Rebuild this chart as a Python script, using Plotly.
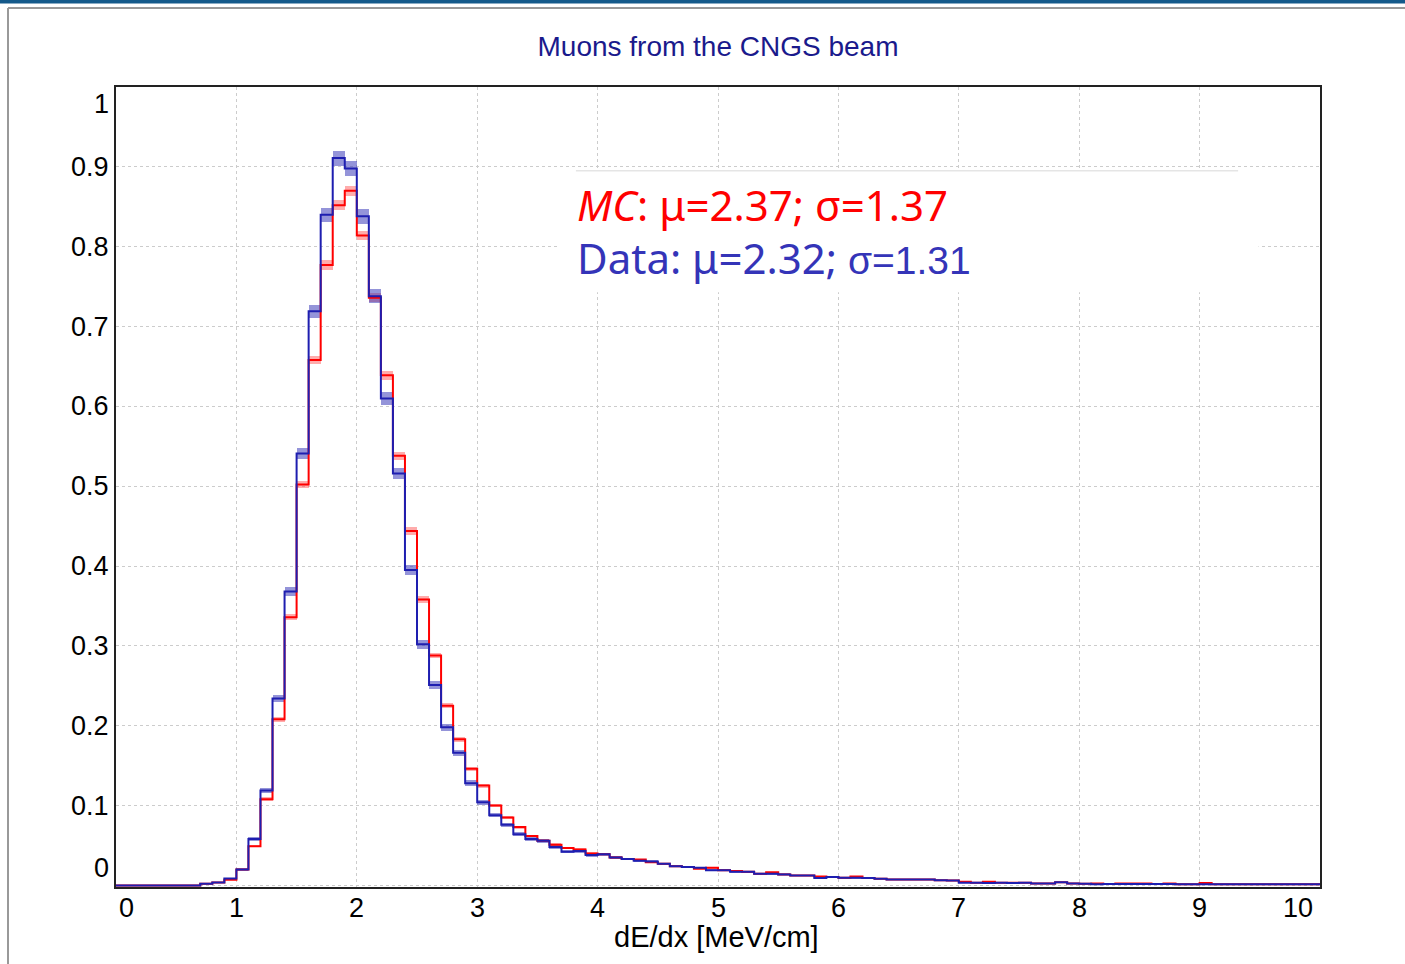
import plotly.graph_objects as go

# ---------------- data ----------------
BIN_LO = 0.0
BIN_W = 0.1

# MC (red) histogram, 100 bins from 0 to 10
MC_VALUES = [
    0, 0, 0, 0, 0, 0, 0, 0.002, 0.0035, 0.007,
    0.020, 0.049, 0.108, 0.208, 0.336, 0.502, 0.658, 0.777, 0.852, 0.870,
    0.814, 0.736, 0.639, 0.538, 0.444, 0.358, 0.288, 0.225, 0.183, 0.146,
    0.125, 0.100, 0.085, 0.073, 0.062, 0.056, 0.051, 0.047, 0.045, 0.040,
    0.039, 0.035, 0.033, 0.0325, 0.029, 0.027, 0.024, 0.023, 0.021, 0.022,
    0.019, 0.018, 0.017, 0.0146, 0.0165, 0.0138, 0.0125, 0.0125, 0.011, 0.0105,
    0.0096, 0.011, 0.0092, 0.0084, 0.0075, 0.0075, 0.0075, 0.0075, 0.0065, 0.006,
    0.0046, 0.0034, 0.0046, 0.0034, 0.0034, 0.0034, 0.0025, 0.0025, 0.0038, 0.0025,
    0.002, 0.0025, 0.0017, 0.0025, 0.0025, 0.0025, 0.0017, 0.0025, 0.0013, 0.0013,
    0.003, 0.0013, 0.0013, 0.0013, 0.0013, 0.0013, 0.0013, 0.0013, 0.0013, 0.0013,
]
MC_ERR = [
    0, 0, 0, 0, 0, 0, 0, 0.0005, 0.0006, 0.0008,
    0.0010, 0.0015, 0.0022, 0.0031, 0.0039, 0.0047, 0.0054, 0.0059, 0.0062, 0.0062,
    0.0060, 0.0057, 0.0054, 0.0049, 0.0045, 0.0040, 0.0036, 0.0032, 0.0029, 0.0026,
    0.0024, 0.0021, 0.0020, 0.0018, 0.0017, 0.0016, 0.0015, 0.0015, 0.0014, 0.0013,
    0.0013, 0.0013, 0.0012, 0.0012, 0.0011, 0.0011, 0.0010, 0.0010, 0.0010, 0.0010,
    0.0009, 0.0009, 0.0009, 0.0009, 0.0009, 0.0009, 0.0009, 0.0009, 0.0009, 0.0009,
    0.0008, 0.0008, 0.0008, 0.0008, 0.0008, 0.0008, 0.0008, 0.0008, 0.0008, 0.0008,
    0.0006, 0.0006, 0.0006, 0.0006, 0.0006, 0.0006, 0.0006, 0.0006, 0.0006, 0.0006,
    0.0005, 0.0005, 0.0005, 0.0005, 0.0005, 0.0005, 0.0005, 0.0005, 0.0005, 0.0005,
    0.0005, 0.0005, 0.0005, 0.0005, 0.0005, 0.0005, 0.0005, 0.0005, 0.0005, 0.0005,
]

# Data (blue) histogram
DATA_VALUES = [
    0, 0, 0, 0, 0, 0, 0, 0.002, 0.0035, 0.0085,
    0.020, 0.058, 0.119, 0.234, 0.368, 0.541, 0.719, 0.840, 0.911, 0.898,
    0.838, 0.738, 0.610, 0.516, 0.395, 0.302, 0.251, 0.198, 0.166, 0.128,
    0.104, 0.088, 0.076, 0.064, 0.058, 0.056, 0.048, 0.042, 0.043, 0.038,
    0.039, 0.035, 0.033, 0.031, 0.030, 0.027, 0.024, 0.023, 0.022, 0.019,
    0.019, 0.017, 0.017, 0.0146, 0.0146, 0.0138, 0.0125, 0.0125, 0.0092, 0.0105,
    0.0096, 0.0096, 0.0092, 0.0084, 0.0075, 0.0075, 0.0075, 0.0075, 0.0065, 0.006,
    0.0034, 0.0034, 0.003, 0.0034, 0.003, 0.0034, 0.0025, 0.0025, 0.0038, 0.0025,
    0.002, 0.0013, 0.0017, 0.0017, 0.0017, 0.0017, 0.0017, 0.0017, 0.0013, 0.0013,
    0.0013, 0.0013, 0.0013, 0.0013, 0.0013, 0.0013, 0.0013, 0.0013, 0.0013, 0.0013,
]
DATA_ERR = [
    0, 0, 0, 0, 0, 0, 0, 0.0008, 0.0010, 0.0010,
    0.0015, 0.0024, 0.0034, 0.0047, 0.0059, 0.0072, 0.0083, 0.0090, 0.0094, 0.0093,
    0.0090, 0.0084, 0.0077, 0.0070, 0.0062, 0.0054, 0.0049, 0.0044, 0.0040, 0.0035,
    0.0032, 0.0029, 0.0027, 0.0025, 0.0024, 0.0023, 0.0021, 0.0020, 0.0020, 0.0019,
    0.0019, 0.0018, 0.0018, 0.0017, 0.0017, 0.0016, 0.0015, 0.0015, 0.0015, 0.0014,
    0.0014, 0.0013, 0.0013, 0.0012, 0.0012, 0.0012, 0.0011, 0.0011, 0.0010, 0.0010,
    0.0010, 0.0010, 0.0009, 0.0009, 0.0009, 0.0009, 0.0009, 0.0009, 0.0008, 0.0008,
    0.0007, 0.0007, 0.0007, 0.0007, 0.0007, 0.0007, 0.0007, 0.0007, 0.0007, 0.0007,
    0.0006, 0.0006, 0.0006, 0.0006, 0.0006, 0.0006, 0.0006, 0.0006, 0.0006, 0.0006,
    0.0005, 0.0005, 0.0005, 0.0005, 0.0005, 0.0005, 0.0005, 0.0005, 0.0005, 0.0005,
]

X_TICKS = [0, 1, 2, 3, 4, 5, 6, 7, 8, 9, 10]
X_TICK_LABELS = ["0", "1", "2", "3", "4", "5", "6", "7", "8", "9", "10"]
Y_TICKS = [0, 0.1, 0.2, 0.3, 0.4, 0.5, 0.6, 0.7, 0.8, 0.9, 1.0]
Y_TICK_LABELS = ["0", "0.1", "0.2", "0.3", "0.4", "0.5", "0.6", "0.7", "0.8", "0.9", "1"]

TITLE = "Muons from the CNGS beam"
X_TITLE = "dE/dx [MeV/cm]"
MC_LABEL = "<i>MC</i>: \u03bc=2.37; \u03c3=1.37"
DATA_LABEL = ("Data: \u03bc=2.32; "
              "<span style='font-family:Liberation Sans, Arial; font-size:39px'>\u03c3=1.31</span>")

# ---------------- styles ----------------
RED = "#ff0000"
RED_BAND = "rgba(255,70,70,0.45)"
BLUE = "#1e1eb0"
BLUE_BAND = "rgba(60,60,185,0.55)"
TXT_BLUE = "#3434b8"
SANS = "Liberation Sans, Arial, sans-serif"

n = len(MC_VALUES)
edges = [round(BIN_LO + i * BIN_W, 3) for i in range(n + 1)]
centers = [round(BIN_LO + (i + 0.5) * BIN_W, 3) for i in range(n)]

fig = go.Figure()


def add_hist(values, errs, band_color, name):
    fig.add_trace(go.Bar(
        x=centers, y=[2 * e for e in errs], base=[v - e for v, e in zip(values, errs)],
        width=BIN_W, marker=dict(color=band_color, line=dict(width=0)),
        showlegend=False, hoverinfo="skip", name=name + " err"))


def add_line(values, line_color, name):
    fig.add_trace(go.Scatter(
        x=edges, y=list(values) + [values[-1]], mode="lines",
        line=dict(color=line_color, width=2, shape="hv"),
        showlegend=False, name=name))


add_hist(MC_VALUES, MC_ERR, RED_BAND, "MC")
add_line(MC_VALUES, RED, "MC")
add_hist(DATA_VALUES, DATA_ERR, BLUE_BAND, "Data")
add_line(DATA_VALUES, BLUE, "Data")

W, H = 1405, 964
ML, MR, MT, MB = 116, 85, 87, 77
PW, PH = W - ML - MR, H - MT - MB


def px_x(p):
    return (p - ML) / PW


def px_y(p):
    return (H - MB - p) / PH


annotations = []
# y tick labels
for v, lab in zip(Y_TICKS, Y_TICK_LABELS):
    ys = 0
    if v == Y_TICKS[-1]:
        ys = -17
    elif v == Y_TICKS[0]:
        ys = 17
    annotations.append(dict(
        x=0, xref="paper", y=v, yref="y", text=lab, showarrow=False,
        xanchor="right", yanchor="middle", xshift=-5, yshift=ys,
        font=dict(family=SANS, size=27, color="#000")))
# x tick labels
for v, lab in zip(X_TICKS, X_TICK_LABELS):
    xs = 0
    if v == X_TICKS[0]:
        xs = 10
    elif v == X_TICKS[-1]:
        xs = -22
    annotations.append(dict(
        x=v, xref="x", y=0, yref="paper", text=lab, showarrow=False,
        xanchor="center", yanchor="middle", xshift=xs, yshift=-21,
        font=dict(family=SANS, size=27, color="#000")))
# x axis title
annotations.append(dict(
    x=0.5, xref="paper", y=0, yref="paper", text=X_TITLE, showarrow=False,
    xanchor="center", yanchor="middle", xshift=-2, yshift=-50,
    font=dict(family=SANS, size=29, color="#000")))
# stats text
annotations.append(dict(
    x=3.815, xref="x", y=0.853, yref="y", text=MC_LABEL, showarrow=False,
    xanchor="left", yanchor="middle",
    font=dict(family="Comic Sans MS, Noto Sans, sans-serif", size=42, color=RED)))
annotations.append(dict(
    x=3.815, xref="x", y=0.787, yref="y", text=DATA_LABEL, showarrow=False,
    xanchor="left", yanchor="middle",
    font=dict(family="Comic Sans MS, Noto Sans, sans-serif", size=42, color=TXT_BLUE)))

shapes = [
    # white box behind the stats text (hides grid)
    dict(type="rect", xref="x", yref="y", x0=3.67, x1=9.49, y0=0.743, y1=0.896,
         fillcolor="white", line=dict(width=0), layer="between"),
    dict(type="line", xref="x", yref="y", x0=3.82, x1=9.32, y0=0.895, y1=0.895,
         line=dict(color="#d8d8d8", width=1), layer="between"),
    # slide decoration: top strip and panel frame
    dict(type="rect", xref="paper", yref="paper", x0=px_x(0), x1=px_x(W),
         y0=px_y(3.5), y1=px_y(0), fillcolor="#14598a", line=dict(width=0)),
    dict(type="line", xref="paper", yref="paper", x0=px_x(8), x1=px_x(W),
         y0=px_y(8), y1=px_y(8), line=dict(color="#999999", width=2)),
    dict(type="line", xref="paper", yref="paper", x0=px_x(8), x1=px_x(8),
         y0=px_y(8), y1=px_y(H), line=dict(color="#999999", width=2)),
]

fig.update_layout(
    width=W, height=H,
    margin=dict(l=ML, r=MR, t=MT, b=MB, pad=0),
    paper_bgcolor="white", plot_bgcolor="white",
    barmode="overlay", bargap=0,
    showlegend=False,
    title=dict(text=TITLE, x=0.5, xref="paper", xanchor="center",
               y=1 - 46 / H, yref="container", yanchor="middle",
               font=dict(family=SANS, size=28, color="#1a1a8c")),
    xaxis=dict(range=[0, 10], tickvals=X_TICKS, showticklabels=False, ticks="",
               showgrid=True, gridcolor="#cccccc", griddash="dot", gridwidth=1,
               showline=True, mirror=True, linecolor="#222", linewidth=2,
               zeroline=False, fixedrange=True),
    yaxis=dict(range=[-0.002, 1.0], tickvals=Y_TICKS, showticklabels=False, ticks="",
               showgrid=True, gridcolor="#cccccc", griddash="dot", gridwidth=1,
               showline=True, mirror=True, linecolor="#222", linewidth=2,
               zeroline=False, fixedrange=True),
    annotations=annotations,
    shapes=shapes,
)

fig.write_html("out.html")
